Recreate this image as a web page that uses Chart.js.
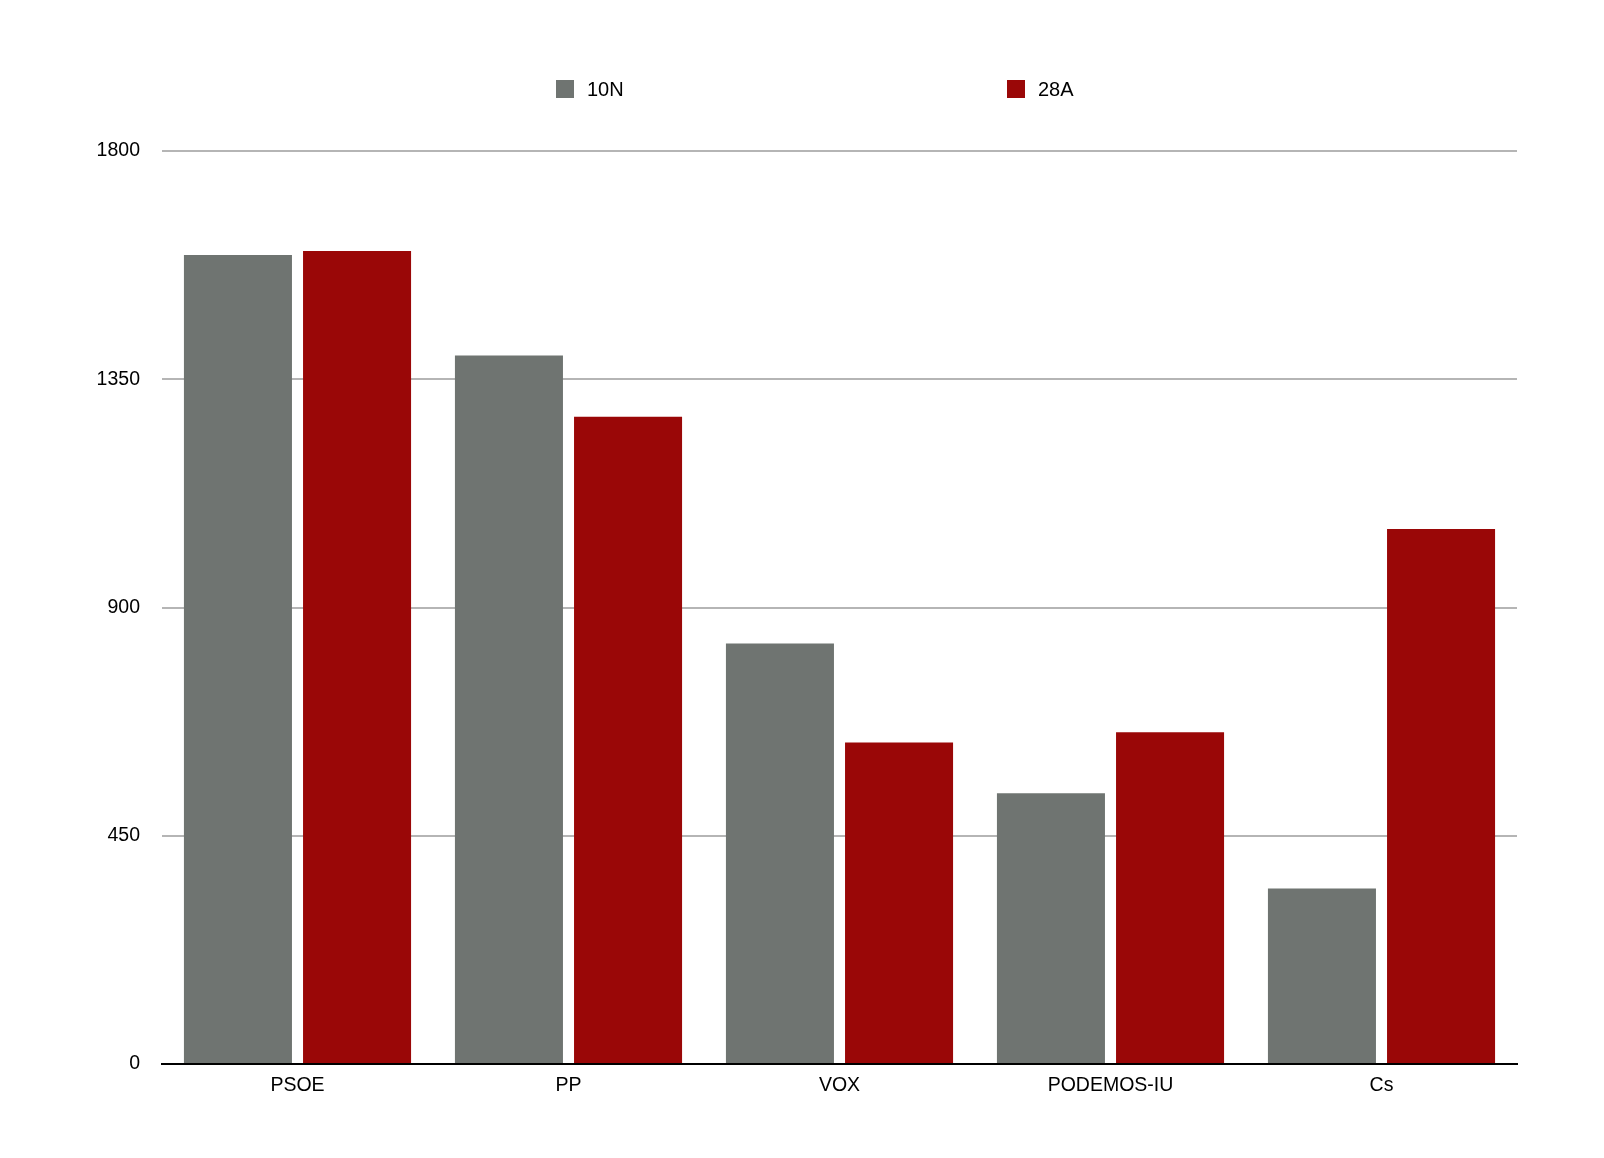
<!DOCTYPE html>
<html>
<head>
<meta charset="utf-8">
<script src="https://cdn.jsdelivr.net/npm/chart.js@4.4.1/dist/chart.umd.min.js"></script>
<style>
  html, body { margin: 0; padding: 0; background: #ffffff; }
  #wrap { width: 1604px; height: 1158px; position: relative; }
</style>
</head>
<body>
<div id="wrap"><canvas id="c" width="1604" height="1158"></canvas></div>
<script>
const categories = ["PSOE", "PP", "VOX", "PODEMOS-IU", "Cs"];
const series10N = [1595, 1397, 829, 534, 346];
const series28A = [1603, 1276, 634, 654, 1055];
const yTicks = [0, 450, 900, 1350, 1800];
const seriesLabels = ["10N", "28A"];
const seriesColors = ["#6f7471", "#9a0707"];

const FONT = "'Liberation Sans', Arial, Helvetica, sans-serif";

const customLegend = {
  id: 'customLegend',
  afterDraw(chart) {
    const ctx = chart.ctx;
    const positions = [556, 1007];
    const cy = 89;
    ctx.save();
    ctx.font = "20px " + FONT;
    ctx.textBaseline = 'middle';
    ctx.textAlign = 'left';
    chart.data.datasets.forEach((ds, i) => {
      const x = positions[i];
      ctx.fillStyle = ds.backgroundColor;
      ctx.fillRect(x, cy - 9, 18, 18);
      ctx.fillStyle = '#000000';
      ctx.fillText(ds.label, x + 31, cy + 1);
    });
    ctx.restore();
  }
};

new Chart(document.getElementById('c'), {
  type: 'bar',
  data: {
    labels: categories,
    datasets: [
      { label: seriesLabels[0], data: series10N, backgroundColor: seriesColors[0], borderWidth: 0 },
      { label: seriesLabels[1], data: series28A, backgroundColor: seriesColors[1], borderWidth: 0 }
    ]
  },
  options: {
    responsive: false,
    animation: false,
    devicePixelRatio: 1,
    categoryPercentage: 0.879,
    barPercentage: 0.907,
    layout: { padding: { top: 151, right: 87, bottom: 0, left: 0 } },
    plugins: {
      legend: { display: false },
      tooltip: { enabled: false }
    },
    scales: {
      x: {
        z: 1,
        grid: { display: false, drawTicks: false },
        border: { display: true, color: '#000000', width: 2 },
        ticks: { color: '#000000', font: { family: FONT, size: 19.5 }, padding: 10 },
        afterFit(scale) { scale.height = 94; }
      },
      y: {
        min: 0,
        max: 1800,
        afterBuildTicks(scale) { scale.ticks = yTicks.map(v => ({ value: v })); },
        grid: {
          drawTicks: false,
          lineWidth: 2,
          color: (c) => (c.tick && c.tick.value === 0) ? 'rgba(0,0,0,0)' : '#b5b5b5'
        },
        border: { display: false },
        ticks: {
          color: '#000000',
          font: { family: FONT, size: 19.5 },
          padding: 22,
          callback: (v) => String(v)
        },
        afterFit(scale) { scale.width = 162; }
      }
    }
  },
  plugins: [customLegend]
});
</script>
</body>
</html>
